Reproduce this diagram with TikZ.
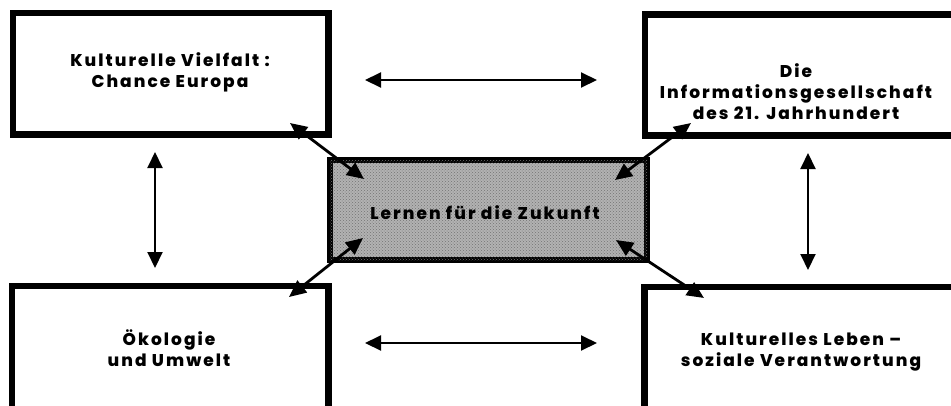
\documentclass[tikz,border=0pt]{standalone}
\usepackage{fontspec}
\setmainfont{Poppins}[BoldFont={Poppins ExtraBold}]
\usetikzlibrary{arrows.meta,patterns}
\definecolor{centerfill}{RGB}{178,178,178}
\tikzset{
  box/.style={draw=black, line width=6.5pt, rectangle, outer sep=0pt, inner sep=0pt, anchor=north west},
  boxtext/.style={align=center, font=\bfseries\fontsize{17}{21}\selectfont\addfontfeature{LetterSpace=12}, inner sep=0pt},
  biarrow/.style={line width=2pt, {Triangle[length=16pt,width=15pt]}-{Triangle[length=16pt,width=15pt]}},
  diagarrow/.style={line width=2.8pt, {Triangle[length=17pt,width=15pt]}-{Triangle[length=17pt,width=15pt]}}
}
\begin{document}
\begin{tikzpicture}[x=1pt,y=-1pt]
\useasboundingbox (0,0) rectangle (951,405);
\fill[white] (0,0) rectangle (951,405);
\clip (0,0) rectangle (951,405);
% boxes
\node[box, minimum width=315.5pt, minimum height=121.5pt] (tl) at (13,13) {};
\node[box, minimum width=320pt, minimum height=121pt] (tr) at (645,14.5) {};
\node[box, minimum width=316.5pt, minimum height=140pt] (bl) at (12,286) {};
\node[box, minimum width=320pt, minimum height=140pt] (br) at (644.5,287) {};
\node[box, minimum width=317pt, minimum height=100pt, fill=centerfill,
      postaction={pattern=crosshatch dots, pattern color=black!55}] (c) at (330,160) {};
% texts
\node[boxtext] (tltext) at (170,72) {Kulturelle Vielfalt :\\Chance Europa};
\node[boxtext] (trtext) at (796,92) {Die\\Informationsgesellschaft\\des 21. Jahrhundert};
\node[boxtext] (bltext) at (169,348) {Ökologie\\und Umwelt};
\node[boxtext] (brtext) at (801,352) {Kulturelles Leben –\\soziale Verantwortung};
\node[boxtext] (ctext) at (485,213) {Lernen für die Zukunft};
% arrow end points
\coordinate (h1a) at (365,80);  \coordinate (h1b) at (597,80);
\coordinate (h2a) at (365,343); \coordinate (h2b) at (597,343);
\coordinate (v1a) at (155,152); \coordinate (v1b) at (155,268);
\coordinate (v2a) at (808,153); \coordinate (v2b) at (808,270);
\coordinate (d1a) at (290,123); \coordinate (d1b) at (364,179);
\coordinate (d2a) at (691,123); \coordinate (d2b) at (615,180);
\coordinate (d3a) at (363,238); \coordinate (d3b) at (289,297);
\coordinate (d4a) at (616,240); \coordinate (d4b) at (704,298);
% arrows
\draw[biarrow] (h1a) -- (h1b);
\draw[biarrow] (h2a) -- (h2b);
\draw[biarrow] (v1a) -- (v1b);
\draw[biarrow] (v2a) -- (v2b);
\draw[diagarrow] (d1a) -- (d1b);
\draw[diagarrow] (d2a) -- (d2b);
\draw[diagarrow] (d3a) -- (d3b);
\draw[diagarrow] (d4a) -- (d4b);
\end{tikzpicture}
\end{document}
